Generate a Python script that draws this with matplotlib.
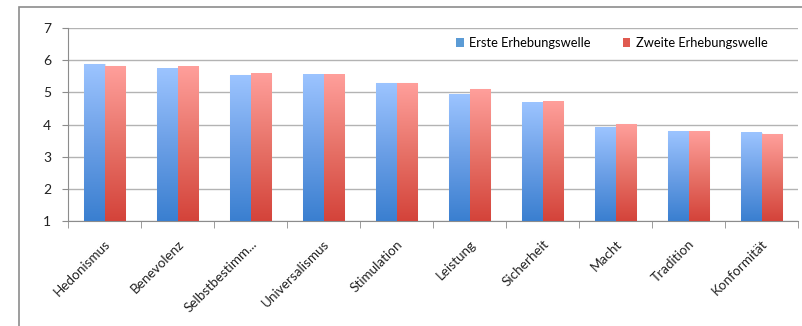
import numpy as np
import matplotlib
matplotlib.use("Agg")
import matplotlib.pyplot as plt
from matplotlib.colors import LinearSegmentedColormap
from matplotlib.patches import Rectangle, Patch

categories = ["Hedonismus", "Benevolenz", "Selbstbestimm...", "Universalismus", "Stimulation",
              "Leistung", "Sicherheit", "Macht", "Tradition", "Konformität"]
erste = [5.88, 5.74, 5.53, 5.55, 5.29, 4.93, 4.67, 3.90, 3.79, 3.74]
zweite = [5.81, 5.79, 5.58, 5.55, 5.29, 5.10, 4.70, 4.01, 3.79, 3.70]
series_names = ["Erste Erhebungswelle", "Zweite Erhebungswelle"]
yticks = [1, 2, 3, 4, 5, 6, 7]

plt.rcParams['font.family'] = ['Lato', 'DejaVu Sans']

fig = plt.figure(figsize=(8.02, 3.26), dpi=100)
fig.patch.set_facecolor('white')
# outer chart frame
fig.patches.append(Rectangle((19/802, -0.1), 1.2, (326-7)/326 + 0.1, transform=fig.transFigure,
                             fill=False, edgecolor='#8c8c8c', linewidth=1.2))

ax = fig.add_axes([68/802, 105/326, (798-68)/802, 193/326])
x = np.arange(len(categories))
w = 0.275
cmap_b = LinearSegmentedColormap.from_list('b', ['#3a7fd0', '#6b9fe6', '#9cc4ff'])
cmap_r = LinearSegmentedColormap.from_list('r', ['#d4433a', '#e77268', '#ff9f9b'])

bars1 = ax.bar(x - w/2, np.array(erste) - 1, w, bottom=1, color='#5b9bd5', label=series_names[0], zorder=2)
bars2 = ax.bar(x + w/2, np.array(zweite) - 1, w, bottom=1, color='#e06055', label=series_names[1], zorder=2)

grad = np.linspace(0, 1, 256).reshape(-1, 1)
for bars, cm in ((bars1, cmap_b), (bars2, cmap_r)):
    for b in bars:
        x0, y0, bw, bh = b.get_x(), b.get_y(), b.get_width(), b.get_height()
        ax.imshow(grad, cmap=cm, origin='lower', aspect='auto',
                  extent=(x0, x0 + bw, y0, y0 + bh), zorder=3, interpolation='bilinear')
        b.set_facecolor('none')
        b.set_edgecolor('#e4e4e4')
        b.set_linewidth(0.8)

ax.set_xlim(-0.5, len(categories) - 0.5)
ax.set_ylim(1, 7)
ax.set_yticks(yticks)
ax.set_yticklabels([str(v) for v in yticks], fontsize=10, color='#222222')
ax.yaxis.grid(True, color='#b3b3b3', linewidth=1.0, zorder=0)
ax.set_axisbelow(True)
ax.tick_params(axis='y', length=4, color='#8c8c8c', pad=8)

ax.set_xticks(x)
ax.set_xticklabels(categories, rotation=45, ha='right', va='top', rotation_mode='anchor',
                   fontsize=9.7, color='#222222')
ax.tick_params(axis='x', which='major', length=0, pad=12)
ax.set_xticks(np.arange(-0.5, len(categories)), minor=True)
ax.tick_params(axis='x', which='minor', length=5, color='#8c8c8c')

for s in ['top', 'right']:
    ax.spines[s].set_visible(False)
for s in ['left', 'bottom']:
    ax.spines[s].set_color('#8c8c8c')

handles = [Patch(facecolor='#5b9bd5', edgecolor='none'), Patch(facecolor='#e05a50', edgecolor='none')]
fig.legend(handles, series_names, loc='center left', bbox_to_anchor=(456/802, (326-43)/326), ncol=2,
           frameon=False, borderpad=0, borderaxespad=0,
           fontsize=9.3, handlelength=0.6, handleheight=0.6, columnspacing=2.5, handletextpad=0.4)

fig.savefig('out.png', dpi=100)
